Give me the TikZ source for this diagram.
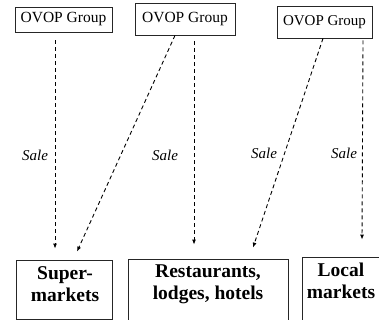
\documentclass[tikz,border=0pt]{standalone}
\usepackage{fontspec}
\setmainfont{Liberation Serif}
\usetikzlibrary{arrows.meta}
\begin{document}
\begin{tikzpicture}[x=1pt,y=-1pt,
  box/.style={draw=black!85, line width=0.8pt, inner sep=0pt},
  grp/.style={box, font=\fontsize{15.5}{18}\selectfont},
  outlet/.style={font=\bfseries\fontsize{19.5}{22}\selectfont, align=center, inner sep=0pt},
  sale/.style={draw, line width=0.9pt, dash pattern=on 4pt off 3pt,
               -{Latex[length=5pt,width=4pt]}},
  salelbl/.style={font=\itshape\fontsize{15}{18}\selectfont, inner sep=0pt}]
\useasboundingbox (0,0) rectangle (379,320);

% producer groups
\node[grp, minimum width=97pt, minimum height=25pt] (g1) at (63.5,19.5) {OVOP Group};
\node[grp, minimum width=100pt, minimum height=32pt] (g2) at (185,19) {OVOP Group};
\node[grp, minimum width=95pt, minimum height=32pt, font=\fontsize{15}{18}\selectfont] (g3) at (324.5,22) {OVOP Group};

% sales outlets
\node[box, minimum width=96pt, minimum height=59pt] (sup) at (64,289.5) {};
\node[outlet] (supt) at (65,284.5) {Super-\\markets};
\node[box, minimum width=160pt, minimum height=62pt] (rest) at (208,290) {};
\node[outlet] (restt) at (208,284) {Restaurants,\\lodges, hotels};
\node[box, minimum width=78pt, minimum height=64pt] (loc) at (341,289) {};
\node[outlet] (loct) at (341,281) {Local\\markets};

% sales flows
\draw[sale] ([shift={(-8.5,8)}]g1.south) -- ([shift={(-9,-11)}]sup.north);
\draw[sale] ([shift={(-10,0)}]g2.south) -- ([shift={(13,-8)}]sup.north);
\draw[sale] ([shift={(9,6)}]g2.south) -- ([shift={(-14,-14)}]rest.north);
\draw[sale] ([shift={(-1.5,0)}]g3.south) -- ([shift={(45,-11)}]rest.north);
\draw[sale] ([shift={(38.5,2)}]g3.south) -- ([shift={(21,-17)}]loc.north);

% flow labels
\node[salelbl] (s1) at (35,155) {Sale};
\node[salelbl] (s2) at (165,155) {Sale};
\node[salelbl] (s3) at (264,153) {Sale};
\node[salelbl] (s4) at (344,153) {Sale};
\end{tikzpicture}
\end{document}
